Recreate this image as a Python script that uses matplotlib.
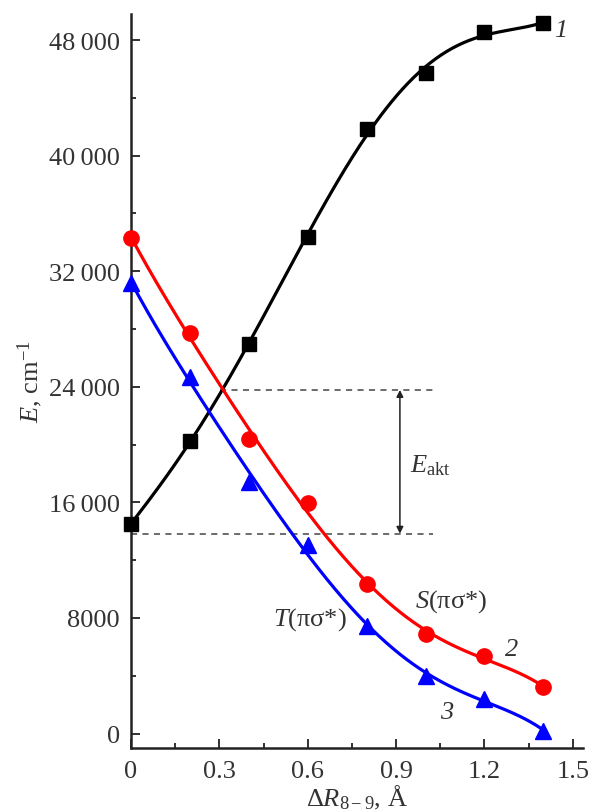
import numpy as np
import matplotlib
matplotlib.use("Agg")
import matplotlib.pyplot as plt
from matplotlib.ticker import MultipleLocator, FuncFormatter

plt.rcParams['font.family'] = ['Liberation Serif', 'DejaVu Serif']
plt.rcParams['mathtext.fontset'] = 'custom'
plt.rcParams['mathtext.rm'] = 'Liberation Serif'
plt.rcParams['mathtext.it'] = 'Liberation Serif:italic'
plt.rcParams['mathtext.bf'] = 'Liberation Serif:bold'

# ---- data ----
x = [0.0, 0.2, 0.4, 0.6, 0.8, 1.0, 1.2, 1.4]
curve1 = [14500, 20250, 26950, 34380, 41870, 45700, 48530, 49180]   # black squares
curve2 = [34300, 27750, 20370, 15950, 10370, 6900, 5360, 3220]       # S(πσ*)
curve3 = [31200, 24700, 17400, 13050, 7450, 3980, 2420, 200]         # T(πσ*)
e_high = 23780
e_low = 13830

TXT = '#333333'


def smooth_line(xs, ys, deg=5, n=300):
    xs = np.asarray(xs, float)
    ys = np.asarray(ys, float)
    coef = np.polyfit(xs, ys, deg)
    xx = np.linspace(xs[0], xs[-1], n)
    return xx, np.polyval(coef, xx)


fig = plt.figure(figsize=(5.89, 8.12), dpi=100)
ax = fig.add_axes([0.2224, 0.0776, 0.7676, 0.9039])

for ys, col, mk, ms in [(curve1, 'black', 's', 10),
                        (curve2, '#ff0000', 'o', 11),
                        (curve3, '#0000ff', '^', 11.5)]:
    xx, yy = smooth_line(x, ys, 5)
    ax.plot(xx, yy, color=col, lw=2.3, zorder=3)
    ax.plot(x, ys, linestyle='none', marker=mk, ms=ms, color=col, zorder=4, clip_on=False)

# dashed levels and arrow
ax.plot([0.302, 1.025], [e_high, e_high], ls=(0, (4, 3.5)), color='#444444', lw=1.1, zorder=2)
ax.plot([0.0, 1.025], [e_low, e_low], ls=(0, (4, 3.5)), color='#444444', lw=1.1, zorder=2)
ax.annotate('', xy=(0.913, e_high), xytext=(0.913, e_low),
            arrowprops=dict(arrowstyle='<|-|>', color='#222222', lw=1.1,
                            mutation_scale=10, shrinkA=0, shrinkB=0))
ax.text(0.948, 18640, r'$E_{\mathrm{akt}}$', fontsize=19,
        color=TXT, ha='left', va='center')

# curve labels
ax.text(1.46, 48700, '1', fontsize=19, style='italic', color=TXT, ha='center', va='center')
ax.text(1.293, 5880, '2', fontsize=19, style='italic', color=TXT, ha='center', va='center')
ax.text(1.072, 1470, '3', fontsize=19, style='italic', color=TXT, ha='center', va='center')
ax.text(1.086, 9190, r'$S$(πσ*)', fontsize=19, color=TXT, ha='center', va='center')
ax.text(0.607, 7950, r'$T$(πσ*)', fontsize=19, color=TXT, ha='center', va='center')

# axes styling
ax.set_xlim(0, 1.535)
ax.set_ylim(-1000, 49800)
for s in ['top', 'right']:
    ax.spines[s].set_visible(False)
for s in ['left', 'bottom']:
    ax.spines[s].set_linewidth(1.8)
    ax.spines[s].set_color('#222222')

ax.xaxis.set_major_locator(MultipleLocator(0.3))
ax.xaxis.set_minor_locator(MultipleLocator(0.15))
ax.yaxis.set_major_locator(MultipleLocator(8000))
ax.yaxis.set_minor_locator(MultipleLocator(4000))


def xfmt(v, p):
    if abs(v) < 1e-9:
        return '0'
    return f'{v:.1f}'


def yfmt(v, p):
    v = int(round(v))
    if v >= 10000:
        s = f'{v:d}'
        return s[:-3] + '\u2009' + s[-3:]
    return f'{v:d}'


ax.xaxis.set_major_formatter(FuncFormatter(xfmt))
ax.yaxis.set_major_formatter(FuncFormatter(yfmt))
ax.tick_params(axis='both', which='major', direction='in', length=6.5, width=1.3,
               colors='#222222', labelcolor=TXT, labelsize=19)
ax.tick_params(axis='both', which='minor', direction='in', length=3.8, width=1.3,
               colors='#222222')
ax.tick_params(axis='y', which='major', pad=8)
ax.tick_params(axis='x', which='major', pad=8.5)

ax.set_ylabel(r'$E$, cm$^{-1}$', fontsize=19, color=TXT)
ax.yaxis.set_label_coords(-0.19, 0.5)
ax.set_xlabel(r'Δ$R_{8-9}$, Å', fontsize=19, color=TXT)
ax.xaxis.set_label_coords(0.5, -0.047)

fig.savefig('out.png', dpi=100)
